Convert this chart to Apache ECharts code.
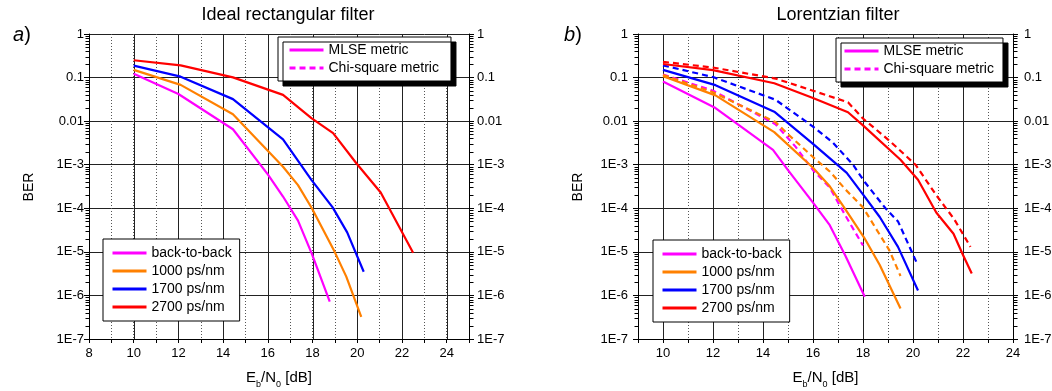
<!DOCTYPE html>
<html>
<head>
<meta charset="utf-8">
<script src="https://cdn.jsdelivr.net/npm/echarts@6/dist/echarts.min.js"></script>
<style>
html,body{margin:0;padding:0;background:#fff;}
#c{width:1052px;height:391px;}
</style>
</head>
<body>
<div id="c"></div>
<script>
// ---------- DATA ----------
// Panel a) Ideal rectangular filter (MLSE metric)
const a_b2b_x   = [10, 12.0, 14.44, 16.0, 16.68, 17.35, 17.97, 18.77];
const a_b2b_y   = [0.122, 0.042, 0.0065, 6e-4, 1.86e-4, 5.2e-5, 9e-6, 7.2e-7];
const a_1000_x  = [10, 12.1, 14.44, 16.68, 17.35, 17.97, 18.99, 19.51, 20.18];
const a_1000_y  = [0.15, 0.068, 0.0144, 9e-4, 3.4e-4, 1e-4, 1e-5, 2.7e-6, 3.2e-7];
const a_1700_x  = [10, 12.1, 14.44, 16.68, 17.95, 18.9, 19.55, 20.29];
const a_1700_y  = [0.188, 0.105, 0.032, 0.0038, 4.5e-4, 1.05e-4, 2.8e-5, 3.5e-6];
const a_2700_x  = [10, 12.1, 14.44, 16.68, 17.95, 18.92, 19.96, 21.05, 22.5];
const a_2700_y  = [0.25, 0.19, 0.101, 0.04, 0.0117, 0.0053, 1.08e-3, 2.3e-4, 9.5e-6];

// Panel b) Lorentzian filter, MLSE metric (solid)
const b_b2b_x   = [10, 12.1, 14.4, 15.0, 16.0, 16.67, 17.3, 18.07];
const b_b2b_y   = [0.081, 0.02, 0.0022, 7.5e-4, 1.35e-4, 4.1e-5, 8e-6, 9.3e-7];
const b_1000_x  = [10, 12.1, 14.45, 16.0, 16.67, 17.27, 18.05, 18.67, 19.5];
const b_1000_y  = [0.107, 0.039, 0.0056, 8.5e-4, 3.2e-4, 1e-4, 2.1e-5, 5e-6, 5e-7];
const b_1700_x  = [10, 12.1, 14.45, 16.0, 17.35, 18.05, 18.67, 19.4, 20.2];
const b_1700_y  = [0.15, 0.067, 0.0165, 0.003, 6.5e-4, 1.9e-4, 6.3e-5, 1.3e-5, 1.3e-6];
const b_2700_x  = [10, 12.0, 14.45, 16.0, 17.4, 18.0, 19.5, 20.2, 20.93, 21.62, 22.0, 22.35];
const b_2700_y  = [0.205, 0.148, 0.074, 0.034, 0.016, 0.008, 1.3e-3, 4.5e-4, 8e-5, 2.6e-5, 8.5e-6, 3.2e-6];

// Panel b) Chi-square metric (dashed)
const c_b2b_x   = [10, 12.0, 14.5, 15.3, 16.0, 16.67, 17.33, 18.0];
const c_b2b_y   = [0.118, 0.05, 0.0085, 2.6e-3, 7.5e-4, 3e-4, 6.3e-5, 1.4e-5];
const c_1000_x  = [10, 12.0, 14.5, 15.0, 16.0, 16.67, 17.3, 18.0, 18.55, 19.05, 19.5];
const c_1000_y  = [0.115, 0.046, 0.0095, 5e-3, 1.5e-3, 7e-4, 2.7e-4, 1.05e-4, 3.2e-5, 1.1e-5, 2.8e-6];
const c_1700_x  = [10, 12.0, 14.5, 16.0, 16.8, 17.6, 18.07, 18.9, 19.4, 20.15];
const c_1700_y  = [0.19, 0.103, 0.031, 7.5e-3, 3.2e-3, 1e-3, 4e-4, 1e-4, 5e-5, 5.6e-6];
const c_2700_x  = [10, 12.0, 14.5, 16.0, 17.4, 18.0, 19.07, 20.1, 20.93, 21.65, 22.3];
const c_2700_y  = [0.23, 0.17, 0.095, 0.05, 0.027, 0.0115, 3.5e-3, 1e-3, 2e-4, 5.6e-5, 1.3e-5];

const legendCurves = ['back-to-back', '1000 ps/nm', '1700 ps/nm', '2700 ps/nm'];
const legendMetric = ['MLSE metric', 'Chi-square metric'];
const titles = ['Ideal rectangular filter', 'Lorentzian filter'];
const panelTags = ['a', 'b'];

const xRangeA = [8, 25];
const xRangeB = [9, 24];
const yRange = [1e-7, 1];
const majorGridA = [10, 12, 14, 16, 18, 20, 22, 24];
const majorGridB = [10, 12, 14, 16, 18, 20, 22];
const minorTickVals = [];
for (let e = -7; e < 0; e++) for (let m = 2; m <= 9; m++) minorTickVals.push(m * Math.pow(10, e));

// ---------- STYLE ----------
const FONT = "'Liberation Sans', Arial, sans-serif";
const colors = ['#ff00ff', '#ff8000', '#0000ff', '#ff0000'];

const pair = (xs, ys) => xs.map((x, i) => [x, ys[i]]);

function yFmt(v) {
  const e = Math.round(Math.log10(v));
  if (e === 0) return '1';
  if (e === -1) return '0.1';
  if (e === -2) return '0.01';
  return '1E' + e;
}

function xAxisFor(grid, range) {
  return {
    type: 'value', gridIndex: grid, min: range[0], max: range[1], interval: 1,
    axisLine: {show: true, onZero: false, lineStyle: {color: '#000', width: 1}},
    axisTick: {show: true, length: 4, lineStyle: {color: '#000'}},
    axisLabel: {
      margin: 8, color: '#000', fontSize: 13, fontFamily: "'Liberation Sans Narrow', " + FONT,
      formatter: v => (v % 2 === 0 && v <= 24) ? String(v) : ''
    },
    splitLine: {show: true, lineStyle: {color: '#555', type: [1, 2], width: 1}},
    name: 'E{s|b}/N{s|0} [dB]',
    nameLocation: 'middle', nameGap: 27,
    nameTextStyle: {
      fontSize: 15, color: '#000', fontFamily: FONT,
      rich: {s: {fontSize: 9, fontFamily: FONT, color: '#000', verticalAlign: 'bottom', padding: [14, 0, 0, 0]}}
    }
  };
}

function yAxisFor(grid, pos, margin) {
  return {
    type: 'log', logBase: 10, gridIndex: grid, position: pos, min: yRange[0], max: yRange[1], splitNumber: 7,
    axisLine: {show: true, onZero: false, lineStyle: {color: '#000', width: 1}},
    axisTick: {show: true, length: 5, lineStyle: {color: '#000'}},
    axisLabel: {color: '#000', fontSize: 13, fontFamily: FONT, margin: margin, formatter: yFmt},
    splitLine: {show: pos === 'left', lineStyle: {color: '#222', width: 1}}
  };
}

function gridLinesSeries(xi, yi, vals) {
  return {
    type: 'custom', xAxisIndex: xi, yAxisIndex: yi, z: 1, silent: true,
    data: vals.map(v => [v, 0.001]),
    renderItem: (params, api) => {
      const x = api.value(0);
      const p1 = api.coord([x, yRange[1]]);
      const p2 = api.coord([x, yRange[0]]);
      const px = Math.round(p1[0]) + 0.5;
      return {type: 'line', shape: {x1: px, y1: p1[1], x2: px, y2: p2[1]}, style: {stroke: '#222', lineWidth: 1}};
    }
  };
}

function minorTickSeries(xi, yi, range) {
  return {
    type: 'custom', xAxisIndex: xi, yAxisIndex: yi, z: 5, silent: true, clip: false,
    data: minorTickVals.map(v => [range[0], v]),
    renderItem: (params, api) => {
      const v = api.value(1);
      const pl = api.coord([range[0], v]);
      const pr = api.coord([range[1], v]);
      const yy = Math.round(pl[1]) + 0.5;
      const xl = Math.round(pl[0]) + 0.5;
      const xr = Math.round(pr[0]) + 0.5;
      return {type: 'group', children: [
        {type: 'line', shape: {x1: xl - 4, y1: yy, x2: xl, y2: yy}, style: {stroke: '#000', lineWidth: 1}},
        {type: 'line', shape: {x1: xr, y1: yy, x2: xr + 4, y2: yy}, style: {stroke: '#000', lineWidth: 1}}
      ]};
    }
  };
}

function lineSeries(name, xi, yi, data, color, dashed) {
  return {
    name: name, type: 'line', xAxisIndex: xi, yAxisIndex: yi, data: data,
    symbol: 'none', z: 3, silent: true, animation: false,
    color: color,
    lineStyle: {color: color, width: 2.2, type: dashed ? [6, 4] : 'solid'},
    itemStyle: {color: color}
  };
}

const series = [
  gridLinesSeries(0, 0, majorGridA),
  gridLinesSeries(1, 2, majorGridB),
  minorTickSeries(0, 0, xRangeA),
  minorTickSeries(1, 2, xRangeB),
  // panel a
  lineSeries(legendCurves[0], 0, 0, pair(a_b2b_x, a_b2b_y), colors[0], false),
  lineSeries(legendCurves[1], 0, 0, pair(a_1000_x, a_1000_y), colors[1], false),
  lineSeries(legendCurves[2], 0, 0, pair(a_1700_x, a_1700_y), colors[2], false),
  lineSeries(legendCurves[3], 0, 0, pair(a_2700_x, a_2700_y), colors[3], false),
  lineSeries(legendMetric[0], 0, 0, [], colors[0], false),
  lineSeries(legendMetric[1], 0, 0, [], colors[0], true),
  // panel b dashed (chi-square)
  lineSeries('chi ' + legendCurves[0], 1, 2, pair(c_b2b_x, c_b2b_y), colors[0], true),
  lineSeries('chi ' + legendCurves[1], 1, 2, pair(c_1000_x, c_1000_y), colors[1], true),
  lineSeries('chi ' + legendCurves[2], 1, 2, pair(c_1700_x, c_1700_y), colors[2], true),
  lineSeries('chi ' + legendCurves[3], 1, 2, pair(c_2700_x, c_2700_y), colors[3], true),
  // panel b solid (MLSE)
  lineSeries(legendCurves[0], 1, 2, pair(b_b2b_x, b_b2b_y), colors[0], false),
  lineSeries(legendCurves[1], 1, 2, pair(b_1000_x, b_1000_y), colors[1], false),
  lineSeries(legendCurves[2], 1, 2, pair(b_1700_x, b_1700_y), colors[2], false),
  lineSeries(legendCurves[3], 1, 2, pair(b_2700_x, b_2700_y), colors[3], false)
];

function legendBox(names, left, top, pad, shadow) {
  const l = {
    data: names, orient: 'vertical', left: left, top: top, padding: pad,
    itemWidth: 34, itemHeight: 14, itemGap: 4, selectedMode: false,
    backgroundColor: '#fff', borderColor: '#000', borderWidth: 1, borderRadius: 0,
    itemStyle: {opacity: 0},
    lineStyle: {width: 3},
    textStyle: {fontSize: 14, color: '#000', fontFamily: FONT},
    z: 10
  };
  if (shadow) {
    l.shadowColor = '#000'; l.shadowBlur = 0; l.shadowOffsetX = 5; l.shadowOffsetY = 5;
  }
  return l;
}

const txt = (text, x, y, size, extra) => Object.assign({
  type: 'text', x: x, y: y, silent: true,
  style: {text: text, fontSize: size, fontFamily: FONT, fill: '#000', align: 'center', verticalAlign: 'middle'}
}, extra || {});

const tagStyle = t => ({style: {text: '{i|' + t + '})', rich: {i: {fontStyle: 'italic', fontSize: 20, fontFamily: FONT}}, fontSize: 20, fontFamily: FONT, fill: '#000', align: 'center', verticalAlign: 'middle'}});

const option = {
  animation: false,
  backgroundColor: '#fff',
  grid: [
    {left: 89, top: 34, width: 380, height: 305, outerBoundsMode: 'none', containLabel: false},
    {left: 638, top: 34, width: 375, height: 305, outerBoundsMode: 'none', containLabel: false}
  ],
  xAxis: [xAxisFor(0, xRangeA), xAxisFor(1, xRangeB)],
  yAxis: [
    yAxisFor(0, 'left', 5), yAxisFor(0, 'right', 8),
    yAxisFor(1, 'left', 10), yAxisFor(1, 'right', 11)
  ],
  legend: [
    legendBox(legendMetric, 278, 37, [6, 12, 6, 10], true),
    legendBox(legendCurves, 103, 239, [7, 8, 7, 8], false),
    legendBox(legendMetric, 836, 38, [6, 9, 6, 7], true),
    legendBox(legendCurves, 653, 240, [7, 8, 7, 8], false)
  ],
  graphic: [
    txt(titles[0], 288, 15, 18),
    txt(titles[1], 838, 15, 18),
    txt('', 22, 35, 20, tagStyle(panelTags[0])),
    txt('', 573, 35, 20, tagStyle(panelTags[1])),
    txt('BER', 29, 187, 14, {rotation: Math.PI / 2}),
    txt('BER', 578, 187, 14, {rotation: Math.PI / 2})
  ],
  series: series
};

const chart = echarts.init(document.getElementById('c'), null, {renderer: 'canvas'});
chart.setOption(option);
</script>
</body>
</html>
